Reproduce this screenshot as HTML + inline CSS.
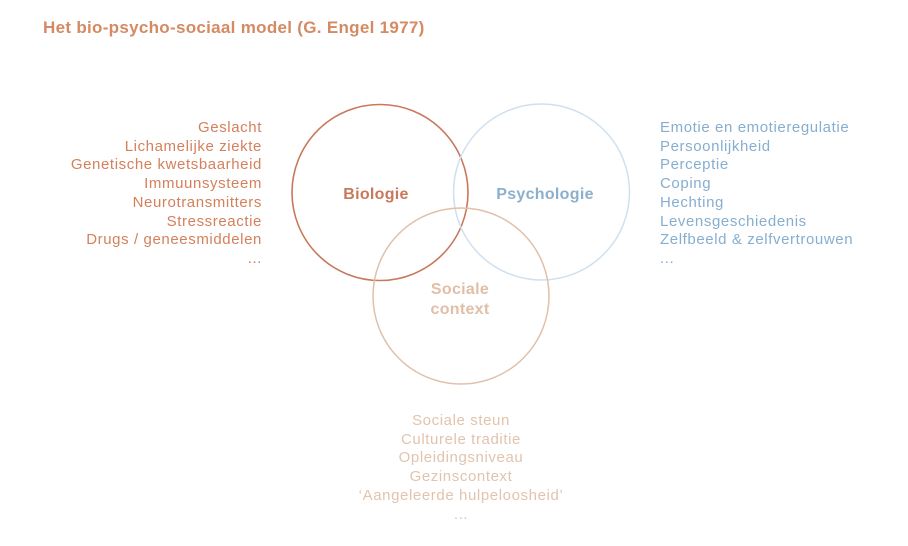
<!DOCTYPE html>
<html><head><style>
body{margin:0;width:908px;height:546px;background:#fff;position:relative;font-family:"Liberation Sans",sans-serif;overflow:hidden}
.t{position:absolute;left:43px;top:18px;font-size:17px;font-weight:bold;color:#d48a62;white-space:nowrap;letter-spacing:0.3px}
.l{position:absolute;font-size:15px;line-height:18.7px;white-space:nowrap;letter-spacing:0.6px}
</style></head><body>
<div class="t">Het bio-psycho-sociaal model (G. Engel 1977)</div>
<svg width="908" height="546" style="position:absolute;left:0;top:0">
<circle cx="380" cy="192.5" r="88" fill="none" stroke="#c9785c" stroke-width="1.6"/>
<circle cx="541.5" cy="192" r="88" fill="none" stroke="#cfe0ee" stroke-width="1.5"/>
<circle cx="461" cy="296" r="88" fill="none" stroke="#e0c0aa" stroke-width="1.5"/>
<text x="376" y="199" text-anchor="middle" font-family="Liberation Sans" font-weight="bold" font-size="16" fill="#c9785c" letter-spacing="0.3">Biologie</text>
<text x="545" y="199" text-anchor="middle" font-family="Liberation Sans" font-weight="bold" font-size="16" fill="#8cb0cc" letter-spacing="0.3">Psychologie</text>
<text x="460" y="294" text-anchor="middle" font-family="Liberation Sans" font-weight="bold" font-size="16" fill="#e0bfa6" letter-spacing="0.3">Sociale</text>
<text x="460" y="314" text-anchor="middle" font-family="Liberation Sans" font-weight="bold" font-size="16" fill="#e0bfa6" letter-spacing="0.3">context</text>
</svg>
<div class="l" style="right:646px;top:119px;text-align:right;color:#d4805c">Geslacht<br>Lichamelijke ziekte<br>Genetische kwetsbaarheid<br>Immuunsysteem<br>Neurotransmitters<br>Stressreactie<br>Drugs / geneesmiddelen<br>...</div>
<div class="l" style="left:660px;top:119px;color:#86aed0">Emotie en emotieregulatie<br>Persoonlijkheid<br>Perceptie<br>Coping<br>Hechting<br>Levensgeschiedenis<br>Zelfbeeld &amp; zelfvertrouwen<br>...</div>
<div class="l" style="left:311px;width:300px;top:412px;text-align:center;color:#e2c3ad">Sociale steun<br>Culturele traditie<br>Opleidingsniveau<br>Gezinscontext<br>‘Aangeleerde hulpeloosheid’<br>...</div>
</body></html>
